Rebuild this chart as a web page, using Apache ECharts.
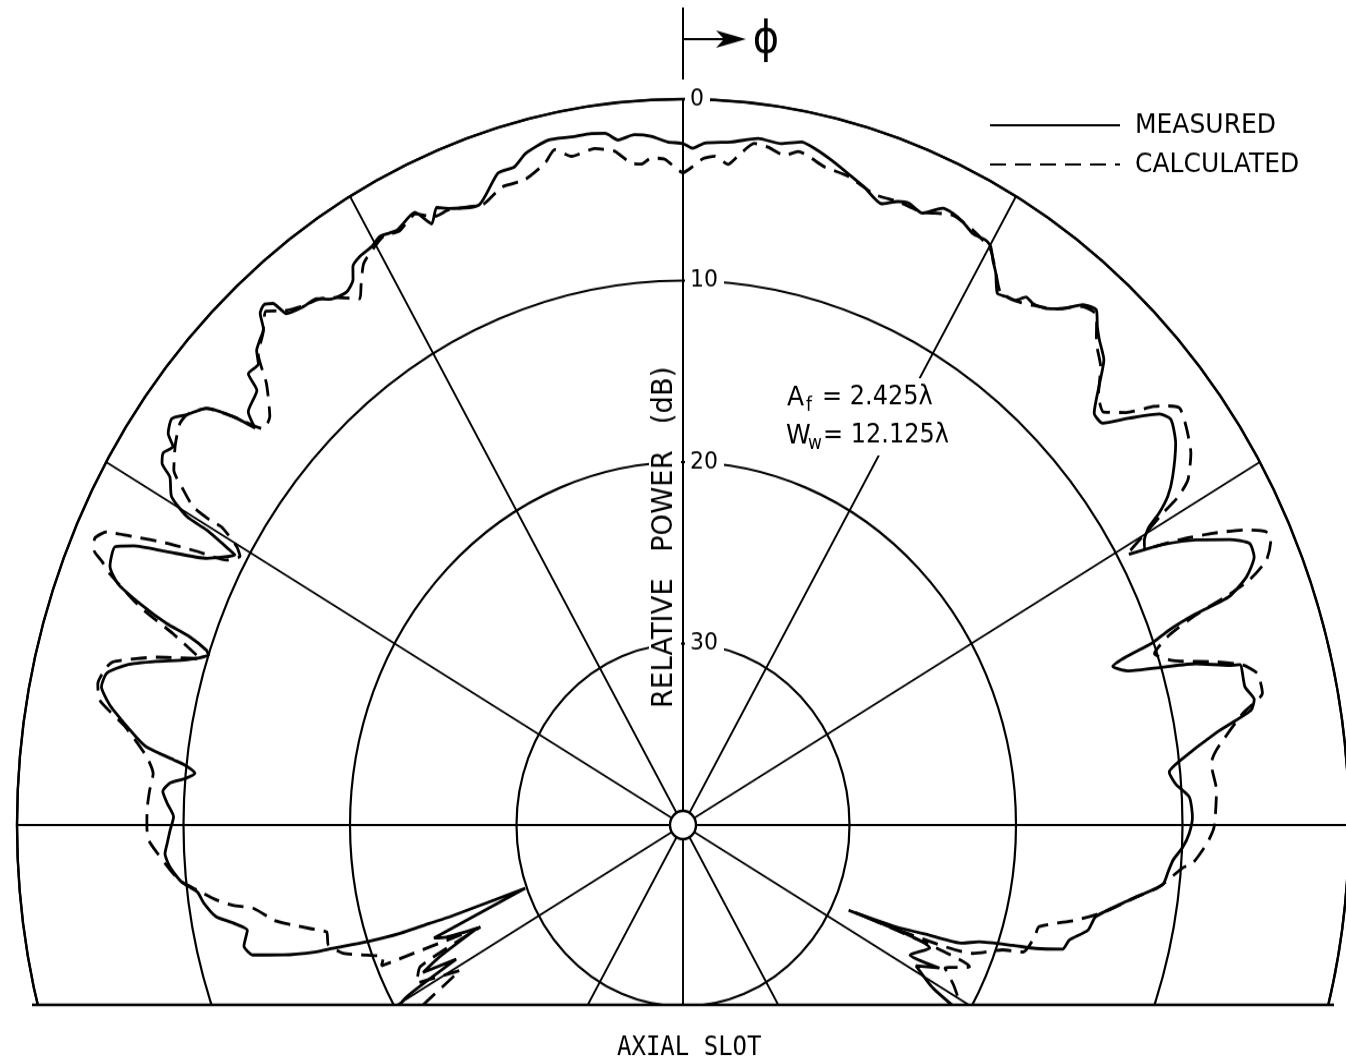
<!DOCTYPE html>
<html>
<head>
<meta charset="utf-8">
<script src="https://cdn.jsdelivr.net/npm/echarts/dist/echarts.min.js"></script>
<style>
  html, body { margin: 0; padding: 0; background: #fff; overflow: hidden; }
  /* the plotted sheet is slightly taller than wide: stretch the drawing vertically about the pole */
  #chart { width: 1346px; height: 1060px; transform: scaleY(1.09); transform-origin: 0 825px; }
</style>
</head>
<body>
<div id="chart"></div>
<script>
// Angle phi in degrees (0 = up, clockwise positive), relative power in dB below peak.
const measured = [
  [-121.0, 19.5], [-119.7, 20.9], [-118.5, 24.5], [-117.5, 22.4], [-116.4, 23.7], [-114.7, 26.4],
  [-113.5, 24.5], [-112.6, 23.8], [-110.2, 29.9], [-109.85, 25.1], [-109.6, 23.9], [-109.35, 22.0],
  [-108.7, 19.95], [-107.9, 17.9], [-107.6, 16.9], [-106.6, 14.95], [-105.5, 13.2], [-104.2, 12.8],
  [-102.5, 13.2], [-101.3, 12.45], [-100.2, 11.5], [-98.5, 10.9], [-97.2, 10.6], [-95.9, 9.7],
  [-94.3, 9.1], [-92.9, 8.85], [-91.9, 9.0], [-90.5, 9.2], [-89.15, 9.4], [-87.8, 9.0], [-86.6, 8.7],
  [-85.7, 9.1], [-85.1, 10.0], [-84.45, 10.55], [-83.7, 9.9], [-83.3, 9.2], [-82.4, 7.5], [-81.6, 6.8],
  [-79.5, 5.2], [-78.7, 4.7], [-77.7, 4.25], [-76.4, 4.4], [-75.2, 5.45], [-74.1, 7.1], [-73.0, 8.85],
  [-71.8, 10.0], [-71.4, 9.8], [-70.7, 8.6], [-70.3, 7.05], [-69.5, 5.2], [-68.6, 3.55], [-67.5, 2.75],
  [-65.8, 2.6], [-65.0, 3.6], [-64.1, 5.5], [-62.8, 7.85], [-61.05, 9.25], [-60.9, 8.85], [-60.4, 7.1],
  [-60.3, 5.7], [-59.5, 4.35], [-58.1, 3.7], [-57.5, 2.9], [-56.7, 2.65], [-55.75, 2.95], [-55.1, 2.3],
  [-53.9, 2.0], [-52.8, 2.6], [-51.25, 3.3], [-50.2, 4.85], [-49.6, 6.25], [-48.9, 5.35], [-46.9, 4.95],
  [-46.4, 3.95], [-45.1, 4.0], [-44.4, 3.4], [-43.5, 3.1], [-42.7, 2.85], [-42.0, 2.05], [-41.3, 1.85],
  [-40.6, 2.15], [-40.2, 3.1], [-38.6, 3.45], [-37.2, 3.6], [-36.2, 4.1], [-34.5, 4.35], [-33.4, 4.0],
  [-32.8, 3.4], [-31.8, 3.15], [-30.4, 3.05], [-29.3, 2.8], [-27.7, 3.0], [-25.5, 2.6], [-24.5, 3.6],
  [-23.5, 2.9], [-22.4, 3.25], [-19.7, 3.7], [-17.2, 2.4], [-15.6, 2.35], [-14.3, 1.8], [-12.1, 1.4],
  [-10.0, 1.5], [-8.2, 1.5], [-7.0, 1.6], [-5.9, 2.05], [-4.4, 1.85], [-2.9, 2.0], [-1.4, 2.35],
  [0.0, 2.45], [0.9, 2.7], [2.0, 2.4], [4.4, 2.25], [6.8, 1.9], [8.9, 2.0], [10.7, 1.7], [12.0, 1.9],
  [13.7, 2.3], [15.4, 2.75], [17.2, 3.2], [19.2, 3.75], [20.6, 3.3], [21.6, 3.15], [23.1, 3.35],
  [24.65, 2.6], [25.7, 2.6], [26.8, 2.75], [28.1, 3.05], [29.45, 3.0], [30.1, 3.15], [30.9, 3.75],
  [31.7, 4.25], [32.8, 5.15], [33.7, 5.0], [34.65, 4.85], [35.3, 4.35], [36.2, 4.4], [37.45, 4.15],
  [38.7, 3.55], [39.95, 2.6], [41.2, 2.3], [42.2, 2.95], [43.1, 3.4], [44.6, 4.0], [45.8, 5.1],
  [47.4, 6.45], [48.7, 6.45], [50.1, 5.05], [51.65, 3.5], [52.7, 3.15], [54.6, 3.7], [56.9, 4.9],
  [58.1, 5.7], [59.0, 6.65], [59.6, 7.55], [60.45, 8.15], [61.3, 8.4], [61.8, 7.3], [63.0, 5.4],
  [64.4, 3.6], [65.5, 2.6], [66.7, 2.65], [68.0, 3.5], [69.0, 4.85], [69.3, 7.05], [69.8, 8.9],
  [70.4, 10.05], [70.8, 11.8], [71.3, 12.75], [72.4, 11.9], [73.2, 9.9], [73.9, 7.95], [75.0, 6.0],
  [75.2, 5.4], [77.3, 5.4], [78.6, 5.0], [79.5, 5.3], [81.0, 7.6], [83.3, 10.0], [84.3, 10.65],
  [85.7, 10.3], [87.1, 9.55], [89.2, 9.4], [90.9, 9.6], [92.3, 9.95], [93.75, 10.5], [95.05, 10.75],
  [96.5, 11.0], [98.8, 12.9], [101.5, 14.7], [103.4, 15.0], [105.3, 15.95], [106.7, 16.2],
  [107.8, 17.75], [108.5, 19.1], [109.9, 21.1], [111.2, 22.0], [112.3, 24.0], [113.65, 26.0],
  [115.3, 29.0], [114.6, 23.7], [117.7, 24.6], [117.1, 22.7], [119.0, 24.0], [120.9, 22.5], [122.0, 19.5]
];

const calculated = [
  [-123.0, 20.0], [-120.9, 24.4], [-118.6, 21.8], [-116.3, 22.4], [-114.8, 26.6], [-113.2, 20.3],
  [-112.0, 20.6], [-110.7, 19.7], [-109.1, 18.4], [-107.2, 17.7], [-105.4, 17.8], [-104.3, 16.9],
  [-103.1, 15.8], [-102.1, 14.9], [-100.1, 13.8], [-99.3, 12.6], [-98.4, 11.7], [-97.0, 10.6],
  [-95.9, 9.7], [-94.6, 9.1], [-92.7, 8.35], [-91.5, 7.9], [-90.2, 7.8], [-88.5, 7.8], [-86.7, 7.9],
  [-84.9, 8.05], [-83.3, 7.55], [-80.8, 6.05], [-78.9, 4.3], [-77.5, 4.0], [-75.9, 4.3], [-75.3, 4.6],
  [-74.4, 5.9], [-73.7, 7.05], [-72.45, 9.6], [-71.0, 7.6], [-69.8, 5.3], [-68.1, 2.9], [-67.4, 2.2],
  [-66.8, 1.5], [-65.9, 1.3], [-65.0, 1.8], [-64.3, 3.35], [-63.4, 5.3], [-62.7, 7.1], [-61.95, 8.95],
  [-60.9, 9.55], [-60.2, 9.1], [-59.35, 7.8], [-59.4, 7.0], [-59.2, 5.75], [-58.4, 4.77], [-57.4, 3.7],
  [-55.5, 3.0], [-53.8, 2.55], [-52.8, 2.6], [-51.3, 3.3], [-50.2, 4.85], [-49.1, 6.65], [-47.8, 6.5],
  [-45.8, 5.1], [-44.5, 3.6], [-43.0, 3.0], [-41.5, 2.2], [-40.2, 2.9], [-38.6, 3.4], [-37.0, 3.7],
  [-35.5, 4.3], [-33.8, 5.1], [-33.0, 4.5], [-31.8, 3.6], [-30.4, 3.2], [-29.0, 2.9], [-27.5, 3.1],
  [-25.5, 2.7], [-24.0, 3.3], [-22.5, 3.3], [-19.3, 3.75], [-17.2, 3.2], [-15.0, 3.2], [-12.8, 2.6],
  [-11.7, 2.0], [-10.3, 2.55], [-8.1, 2.35], [-6.3, 2.65], [-4.9, 3.4], [-3.9, 3.5], [-3.0, 3.2],
  [-1.7, 3.3], [0.0, 4.05], [0.95, 3.7], [1.9, 3.25], [3.0, 3.1], [4.25, 3.5], [5.1, 3.0], [6.5, 2.2],
  [7.8, 2.3], [9.4, 2.6], [10.55, 2.25], [13.2, 2.75], [15.5, 2.9], [18.35, 3.4], [20.6, 3.3],
  [23.0, 3.3], [25.7, 2.7], [28.1, 2.9], [30.2, 3.3], [31.5, 4.1], [33.0, 5.0], [34.6, 4.9], [36.2, 4.5],
  [38.0, 3.9], [40.0, 2.7], [41.5, 2.5], [43.0, 3.6], [44.8, 4.4], [46.5, 5.6], [48.0, 6.0], [49.5, 5.0],
  [50.8, 3.5], [51.5, 2.9], [52.4, 2.35], [54.0, 2.65], [56.1, 3.25], [57.9, 4.2], [58.7, 5.2],
  [59.2, 6.45], [59.7, 7.45], [60.8, 9.5], [62.2, 6.3], [63.2, 4.35], [64.3, 2.5], [65.2, 1.45],
  [66.0, 1.35], [67.4, 2.05], [68.35, 3.4], [68.9, 5.05], [69.4, 7.1], [70.3, 9.0], [71.55, 10.15],
  [72.9, 9.2], [74.2, 6.95], [75.3, 5.25], [76.4, 4.5], [78.2, 4.45], [79.6, 5.8], [82.65, 7.7],
  [83.9, 8.1], [86.55, 7.9], [90.2, 8.1], [91.8, 8.5], [93.9, 9.3], [94.5, 9.9], [96.8, 11.2],
  [98.3, 12.5], [100.6, 14.15], [102.5, 15.8], [104.7, 17.9], [106.3, 18.0], [108.9, 18.4],
  [109.7, 19.6], [112.1, 21.2], [113.9, 25.3], [115.0, 28.6], [114.4, 21.1], [116.6, 22.4],
  [118.5, 21.5], [121.0, 20.5], [123.0, 19.5]
];

const seriesNames = ['MEASURED', 'CALCULATED'];
const powerTicks = [0, 10, 20, 30];          // dB rings that carry a label
const powerRange = [0, 40];                  // 0 dB on the rim, 40 dB at the pole
const angleStep = 30;                        // spokes every 30 degrees

const FONT = "'DejaVu Sans', 'Liberation Sans', sans-serif";
const FONT_NARROW = "'DejaVu Sans Condensed', 'Liberation Sans Narrow', 'DejaVu Sans', sans-serif";

const CX = 683, CY = 825, R = 666;
const ink = '#000';

const chart = echarts.init(document.getElementById('chart'), null, { renderer: 'canvas' });

chart.setOption({
  animation: false,
  backgroundColor: '#fff',
  color: [ink, ink],
  title: {
    text: 'AXIAL SLOT',
    left: 612,
    top: 1013,
    z: 100,
    textStyle: { fontFamily: "'DejaVu Sans Mono', 'Liberation Mono', monospace", fontSize: 24, fontWeight: 'normal', color: ink }
  },
  legend: {
    data: seriesNames,
    orient: 'vertical',
    left: 989,
    top: 169,
    padding: 0,
    itemWidth: 130,
    itemHeight: 14,
    itemGap: 8,
    selectedMode: false,
    itemStyle: { opacity: 0 },
    textStyle: { fontFamily: FONT, fontSize: 25, color: ink, lineHeight: 28, padding: [0, 0, 0, 10] }
  },
  polar: { center: [CX, CY], radius: R },
  angleAxis: {
    type: 'value',
    min: 0,
    max: 360,
    interval: angleStep,
    startAngle: 90,
    clockwise: true,
    axisLine: { show: true, lineStyle: { color: ink, width: 2.4 } },
    axisTick: { show: false },
    axisLabel: { show: false },
    splitLine: { show: true, lineStyle: { color: ink, width: 1.9 } }
  },
  radiusAxis: {
    type: 'value',
    min: powerRange[0],
    max: powerRange[1],
    interval: 10,
    inverse: true,
    axisLine: { show: true, lineStyle: { color: ink, width: 2 } },
    axisTick: { show: false },
    axisLabel: {
      show: true,
      margin: -2,
      align: 'left',
      color: ink,
      fontFamily: FONT,
      fontSize: 22,
      backgroundColor: '#fff',
      padding: [1, 6, 1, 5],
      formatter: v => (powerTicks.indexOf(v) >= 0 ? String(v) : '')
    },
    splitLine: { show: true, lineStyle: { color: ink, width: 2.2 } }
  },
  series: [
    {
      name: seriesNames[0],
      type: 'line',
      coordinateSystem: 'polar',
      data: measured.map(([a, p]) => [p, a]),
      symbol: 'none',
      smooth: 0.2,
      clip: false,
      z: 5,
      itemStyle: { color: ink },
      lineStyle: { color: ink, width: 2.8 }
    },
    {
      name: seriesNames[1],
      type: 'line',
      coordinateSystem: 'polar',
      data: calculated.map(([a, p]) => [p, a]),
      symbol: 'none',
      smooth: 0.2,
      clip: false,
      z: 5,
      itemStyle: { color: ink },
      lineStyle: { color: ink, width: 2.8, type: [16, 9] }
    }
  ],
  graphic: [
    // phi reference direction above the 0 deg spoke
    { type: 'line', z: 20, shape: { x1: CX, y1: 75, x2: CX, y2: 141 }, style: { stroke: ink, lineWidth: 2 } },
    { type: 'line', z: 20, shape: { x1: CX, y1: 104, x2: 735, y2: 104 }, style: { stroke: ink, lineWidth: 2 } },
    { type: 'polygon', z: 20, shape: { points: [[746, 104], [716, 96], [724, 104], [716, 112]] }, style: { fill: ink } },
    { type: 'text', z: 20, x: 766, y: 106, style: { text: 'ϕ', font: "40px 'DejaVu Sans', sans-serif", fill: ink, align: 'center', verticalAlign: 'middle' } },

    // radial scale caption, breaks the 20 and 30 dB rings
    { type: 'text', z: 20, x: 665, y: 561, rotation: Math.PI / 2,
      style: { text: 'RELATIVE   POWER   (dB)', font: "28px " + FONT_NARROW, fill: ink, align: 'center', verticalAlign: 'middle',
               backgroundColor: '#fff', lineHeight: 32, padding: [0, 2] } },

    // aperture parameters, set on a white patch over the 30 deg spoke
    { type: 'rect', z: 20, shape: { x: 785, y: 415, width: 160, height: 71 }, style: { fill: '#fff' } },
    { type: 'text', z: 21, x: 787, y: 433, style: { text: 'A', font: "25px " + FONT, fill: ink, align: 'left', verticalAlign: 'middle' } },
    { type: 'text', z: 21, x: 806, y: 441, style: { text: 'f', font: "17px " + FONT, fill: ink, align: 'left', verticalAlign: 'middle' } },
    { type: 'text', z: 21, x: 822, y: 433, style: { text: '= 2.425λ', font: "24px " + FONT, fill: ink, align: 'left', verticalAlign: 'middle' } },
    { type: 'text', z: 21, x: 786, y: 468, style: { text: 'W', font: "25px " + FONT, fill: ink, align: 'left', verticalAlign: 'middle' } },
    { type: 'text', z: 21, x: 808, y: 476, style: { text: 'w', font: "17px " + FONT, fill: ink, align: 'left', verticalAlign: 'middle' } },
    { type: 'text', z: 21, x: 823, y: 468, style: { text: '= 12.125λ', font: "24px " + FONT, fill: ink, align: 'left', verticalAlign: 'middle' } },

    // pole
    { type: 'circle', z: 30, shape: { cx: CX, cy: CY, r: 13 }, style: { fill: '#fff', stroke: ink, lineWidth: 2.4 } },

    // lower edge of the plotted sheet
    { type: 'rect', z: 50, shape: { x: 0, y: 990, width: 1346, height: 80 }, style: { fill: '#fff' } },
    { type: 'line', z: 51, shape: { x1: 32, y1: 990, x2: 1334, y2: 990 }, style: { stroke: ink, lineWidth: 2.4 } }
  ]
});
</script>
</body>
</html>
